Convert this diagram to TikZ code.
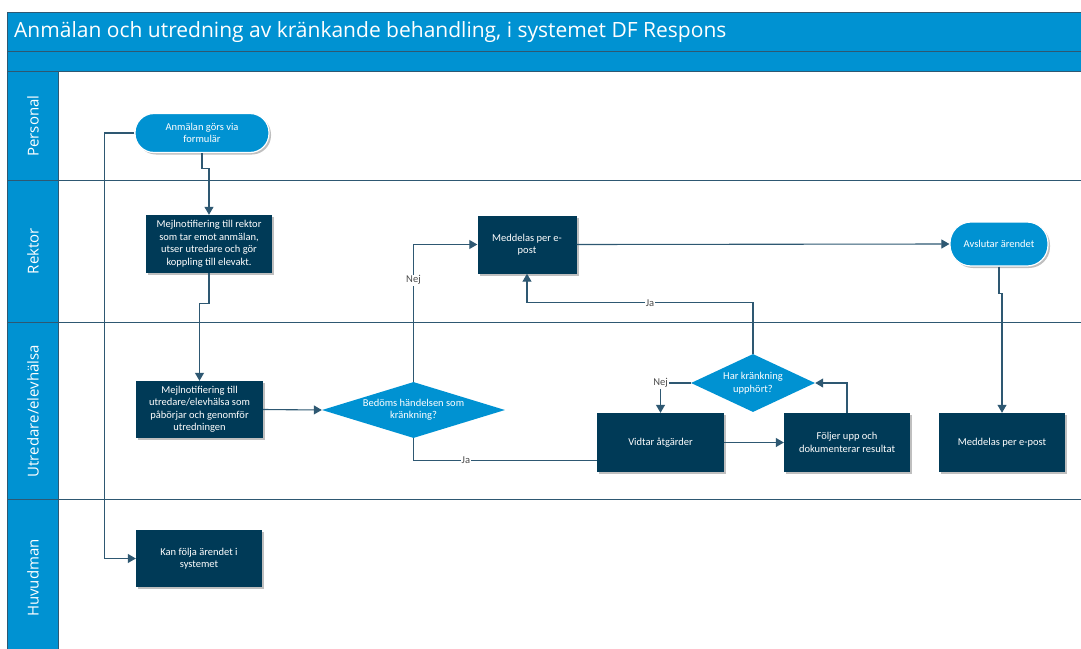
\documentclass[tikz,border=0pt]{standalone}
\usepackage{fontspec}
\setmainfont{Open Sans}
\newfontfamily\boxfont{Carlito}
\usetikzlibrary{shapes.geometric,arrows.meta,shadows,calc}
\definecolor{bblue}{RGB}{0,146,210}
\definecolor{dbox}{RGB}{0,58,87}
\definecolor{lcol}{RGB}{46,88,114}
\begin{document}
\begin{tikzpicture}[x=1pt,y=-1pt,
  shad/.style={drop shadow={shadow xshift=2pt,shadow yshift=-2pt,fill=black,opacity=0.25}},
  box/.style={shad,fill=dbox,text=white,minimum width=126pt,minimum height=58pt,inner sep=2pt,align=center,font=\boxfont\fontsize{10.5}{12.5}\selectfont},
  pill/.style={shad,fill=bblue,draw=white,line width=1.2pt,text=white,inner sep=2pt,align=center,font=\boxfont\fontsize{10.5}{12.5}\selectfont},
  dia/.style={diamond,fill=bblue,text=white,inner sep=0pt,align=center,font=\boxfont\fontsize{10.5}{12.5}\selectfont},
  conn/.style={draw=lcol,line width=1.1pt},
  arr/.style={conn,-{Triangle[length=8pt,width=9pt]}},
  lbl/.style={fill=white,text=black!70,inner sep=1pt,font=\boxfont\fontsize{10.5}{12}\selectfont},
  lane/.style={rotate=90,text=white,font=\fontsize{15}{18}\selectfont},
  frame/.style={draw=lcol,line width=1pt}]
\useasboundingbox (0,0) rectangle (1081,648);
% header
\fill[white] (0,0) rectangle (1081,648);
\draw[frame,fill=bblue] (7,12) rectangle (1085,51);
\draw[frame,fill=bblue] (7,51) rectangle (1085,71);
\node[anchor=west,text=white,font=\fontsize{21}{25}\selectfont,inner sep=0pt] (title) at (14,32) {Anmälan och utredning av kränkande behandling, i systemet DF Respons};
% lane column
\draw[frame,fill=bblue] (7,71) rectangle (58,652);
\draw[frame] (7,180) -- (1085,180);
\draw[frame] (7,322) -- (1085,322);
\draw[frame] (7,499) -- (1085,499);
\node[lane] (lp) at (33,126) {Personal};
\node[lane] (lr) at (33,251) {Rektor};
\node[lane] (lu) at (33,411) {Utredare/elevhälsa};
\node[lane] (lh) at (33,578) {Huvudman};
% nodes
\node[pill,rounded corners=19pt,minimum width=134pt,minimum height=39pt] (anm) at (202,133) {Anmälan görs via\\formulär};
\node[box,minimum height=58pt] (rek) at (209,244) {Mejlnotifiering till rektor\\som tar emot anmälan,\\utser utredare och gör\\koppling till elevakt.};
\node[box,minimum width=127pt,minimum height=57pt] (utr) at (199.5,409.5) {Mejlnotifiering till\\utredare/elevhälsa som\\påbörjar och genomför\\utredningen};
\node[dia,minimum width=183pt,minimum height=56pt,aspect=3.27] (bed) at (413.5,410) {Bedöms händelsen som\\kränkning?};
\node[box,minimum width=99pt,minimum height=58pt] (med) at (527,244.5) {Meddelas per e-\\post};
\node[pill,rounded corners=21pt,minimum width=98pt,minimum height=44pt] (avs) at (999,244) {Avslutar ärendet};
\node[dia,minimum width=124pt,minimum height=58pt,aspect=2.14] (har) at (753,383) {Har kränkning\\upphört?};
\node[box,minimum width=127pt,minimum height=59pt] (vid) at (660.5,442.5) {Vidtar åtgärder};
\node[box,minimum width=126pt,minimum height=59pt] (fol) at (847,442.5) {Följer upp och\\dokumenterar resultat};
\node[box,minimum width=126pt,minimum height=59pt] (med2) at (1002,442.5) {Meddelas per e-post};
\node[box,minimum width=126pt,minimum height=57pt] (kan) at (199,558.5) {Kan följa ärendet i\\systemet};
% connectors
\draw[arr] (anm.south) -- ++(0,15) -| (rek.north);
\draw[arr] (rek.south) -- ++(0,30) -| (utr.north);
\draw[arr] (utr.east) -- (bed.west);
\draw[arr] (bed.north) |- node[lbl,pos=0.37] {Nej} (med.west);
\draw[arr] (med.east) -- (avs.west);
\draw[arr] (avs.south) -- ++(0,27) -| (med2.north);
\draw[arr] (har.north) -- ++(0,-51) -| node[lbl,pos=0.228] {Ja} (med.south);
\draw[arr] (har.west) -| node[lbl,pos=0.5] {Nej} (vid.north);
\draw[arr] (vid.east) -- (fol.west);
\draw[arr] (fol.north) |- (har.east);
\draw[conn] (bed.south) |- node[lbl,pos=0.643] {Ja} ([yshift=-18pt]vid.west);
\draw[arr] (anm.west) -- ++(-30,0) |- (kan.west);
\end{tikzpicture}
\end{document}
